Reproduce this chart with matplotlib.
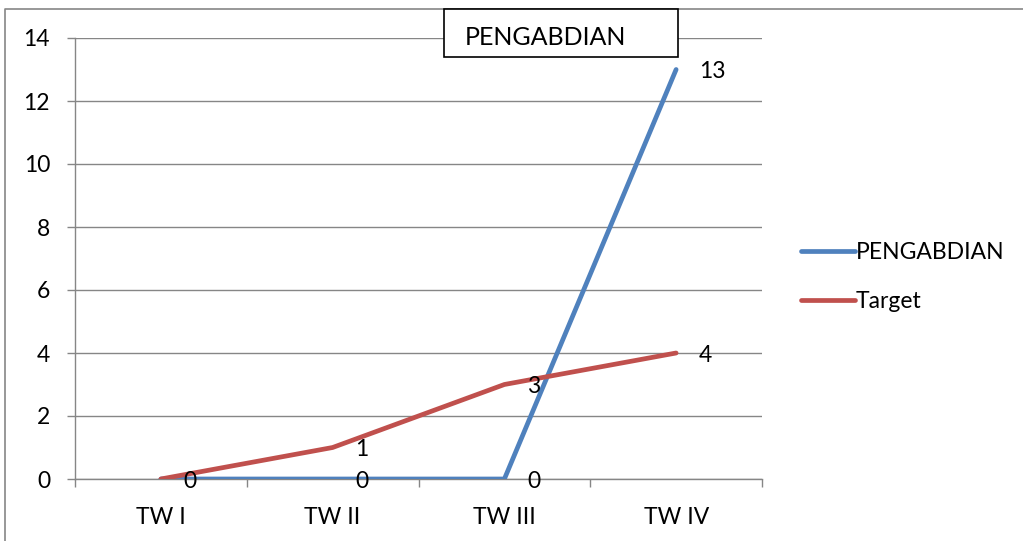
import matplotlib
matplotlib.use('Agg')
import matplotlib.pyplot as plt
from matplotlib.lines import Line2D
from matplotlib.patches import Rectangle

plt.rcParams['font.family'] = ['Lato', 'DejaVu Sans']

categories = ['TW I', 'TW II', 'TW III', 'TW IV']
pengabdian = [0, 0, 0, 13]
target = [0, 1, 3, 4]
yticks = [0, 2, 4, 6, 8, 10, 12, 14]

blue = '#4F81BD'
red = '#C0504D'
grey = '#868686'
fs = 16.5

W, H = 1023, 541
fig = plt.figure(figsize=(W / 100, H / 100), dpi=100)
ax = fig.add_axes([75 / W, 1 - 479 / H, (762 - 75) / W, (479 - 38) / H])

x = list(range(len(categories)))
ax.plot(x, pengabdian, color=blue, lw=3.4, solid_capstyle='round',
        solid_joinstyle='round', label='PENGABDIAN', zorder=3)
ax.plot(x, target, color=red, lw=3.4, solid_capstyle='round',
        solid_joinstyle='round', label='Target', zorder=4)

# data labels, right of each point
for xi, v in zip(x, pengabdian):
    ax.annotate(str(v), (xi, v), xytext=(16.5, -1.5), textcoords='offset points',
                ha='left', va='center', fontsize=fs, zorder=5)
for xi, v in zip(x, target):
    if v == 0:
        continue
    ax.annotate(str(v), (xi, v), xytext=(16.5, -1.5), textcoords='offset points',
                ha='left', va='center', fontsize=fs, zorder=5)

ax.set_xlim(-0.5, len(categories) - 0.5)
ax.set_ylim(0, 14)
ax.set_yticks(yticks)
ax.yaxis.grid(True, color=grey, lw=1)
ax.set_axisbelow(True)

ax.set_xticks([i - 0.5 for i in range(len(categories) + 1)])
ax.set_xticklabels([])
ax.set_xticks(x, minor=True)
ax.set_xticklabels(categories, minor=True, fontsize=fs)
ax.tick_params(axis='x', which='major', length=6, color=grey, width=1, direction='out')
ax.tick_params(axis='x', which='minor', length=0, pad=20)
ax.tick_params(axis='y', length=6, color=grey, width=1, labelsize=fs, pad=12)

for s in ['top', 'right']:
    ax.spines[s].set_visible(False)
for s in ['left', 'bottom']:
    ax.spines[s].set_color(grey)
    ax.spines[s].set_linewidth(1)

# legend
fig.legend(loc='center left', bbox_to_anchor=(780 / W, 1 - 277 / H), frameon=False,
           fontsize=fs, handlelength=2.36, handletextpad=0.05, labelspacing=1.25)

# title box
fig.patches.append(Rectangle((444 / W, 1 - 57 / H), 234 / W, 48 / H,
                             transform=fig.transFigure, fc='white', ec='black',
                             lw=1.2, zorder=10))
fig.text(465 / W, 1 - 37.5 / H, 'PENGABDIAN', ha='left', va='center', fontsize=18, zorder=11)

# outer chart border (top and left visible)
fig.lines.append(Line2D([5 / W, 5 / W, 1], [0, 1 - 9 / H, 1 - 9 / H],
                        transform=fig.transFigure, color=grey, lw=1.2))

fig.savefig('out.png', dpi=100)
